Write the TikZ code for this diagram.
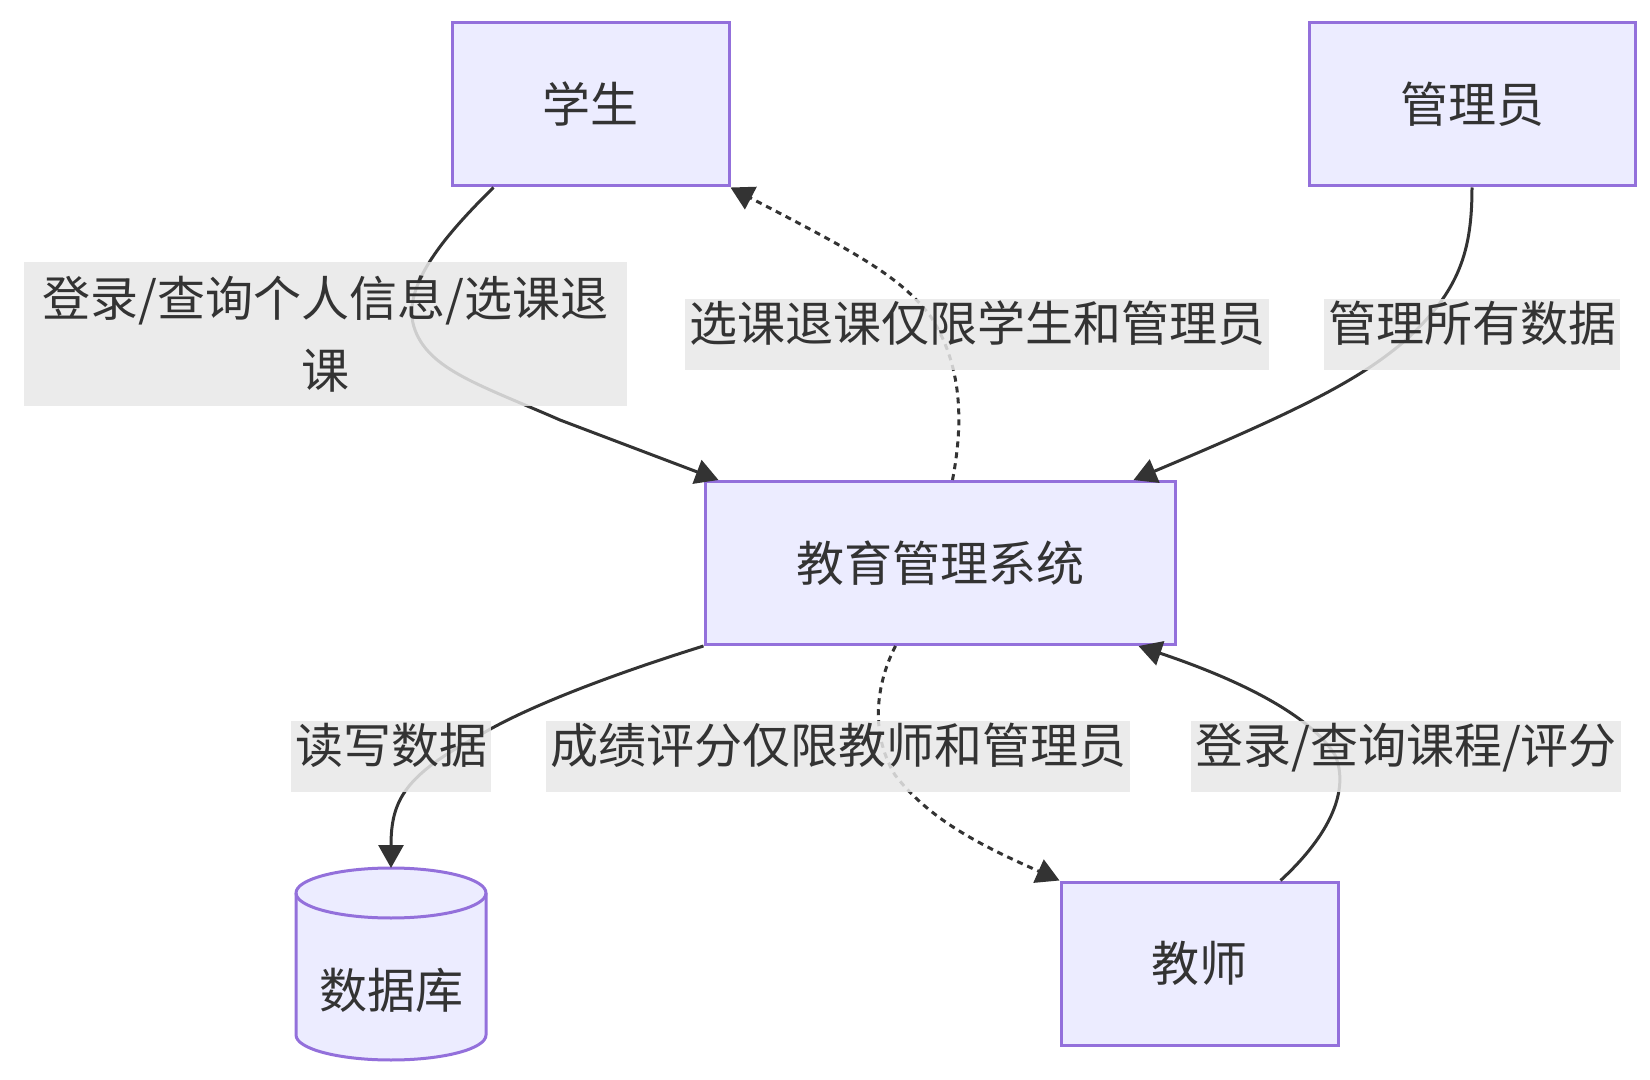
\documentclass[tikz,border=0pt]{standalone}
\usepackage{fontspec}
\usepackage{tikz}
\usetikzlibrary{arrows.meta}
\newfontfamily\cjk{Noto Sans CJK SC}

\definecolor{boxfill}{HTML}{ECECFF}
\definecolor{boxline}{HTML}{9370DB}
\definecolor{lblfill}{HTML}{E8E8E8}
\definecolor{ink}{HTML}{333333}

\tikzset{
	box/.style={draw=boxline, fill=boxfill, line width=1.5pt, text=ink,
	            minimum height=81.5pt, inner sep=0pt},
	lblbase/.style={fill=lblfill, fill opacity=0.85, text opacity=1, text=ink,
	            inner xsep=2pt, inner ysep=0pt},
	lbl/.style={lblbase, minimum height=35.5pt,
	            text height=0.85em, text depth=0.12em},
	flow/.style={draw=ink, line width=1.5pt,
	             -{Triangle[length=11.5pt,width=12.5pt]}},
	dotflow/.style={flow, dash pattern=on 3pt off 2.5pt}
}

\begin{document}
\begin{tikzpicture}[x=0.5pt, y=-0.5pt, font=\cjk\fontsize{24}{36}\selectfont]
	\useasboundingbox (0,0) rectangle (1650,1080);

	% boxes
	\node[box, minimum width=138.5pt] (stu) at (590.5,104.5) {学生};
	\node[box, minimum width=163pt]   (adm) at (1472,104.5) {管理员};
	\node[box, minimum width=235pt]   (sys) at (940,563) {教育管理系统};
	\node[box, minimum width=138.5pt] (tch) at (1199.5,963.5) {教师};

	% database
	\coordinate (dbtop) at (391,868);
	\path[draw=boxline, fill=boxfill, line width=1.5pt]
		(296,893) -- (296,1035) arc[start angle=180, end angle=360, x radius=47.5pt, y radius=12.5pt]
		-- (486,893) arc[start angle=0, end angle=180, x radius=47.5pt, y radius=12.5pt] -- cycle;
	\draw[boxline, line width=1.5pt]
		(296,893) arc[start angle=180, end angle=360, x radius=47.5pt, y radius=12.5pt];
	\node[text=ink] (db) at (391,990) {数据库};

	% edges
	\draw[flow] ([xshift=21.5pt]stu.south west)
		.. controls (440,240) and (400,290) .. (415,330)
		.. controls (430,370) and (480,385) .. (560,420)
		-- ([xshift=7.5pt]sys.north west);
	\draw[dotflow] ([xshift=124.5pt]sys.north west)
		.. controls (962,430) and (965,370) .. (931,317)
		.. controls (900,275) and (850,250) .. (stu.south east);
	\draw[flow] (adm.south)
		.. controls (1472,250) and (1460,290) .. (1407,339)
		.. controls (1360,380) and (1300,410) .. ([xshift=-21.5pt]sys.north east);
	\draw[flow] (sys.south west)
		.. controls (620,672) and (530,705) .. (480,735)
		.. controls (405,775) and (391,800) .. (dbtop);
	\draw[dotflow] ([xshift=96pt]sys.south west)
		.. controls (878,680) and (868,730) .. (895,775)
		.. controls (930,820) and (980,845) .. (tch.north west);
	\draw[flow] ([xshift=40.5pt]tch.north)
		.. controls (1330,835) and (1350,790) .. (1335,755)
		.. controls (1310,715) and (1240,680) .. ([xshift=-19pt]sys.south east);

	% edge labels
	\node[lblbase, align=center, minimum height=72pt, minimum width=301.5pt] (l1)
		at (325.5,334) {登录/查询个人信息/选课退\\课};
	\node[lbl] (l2) at (977,334.5) {选课退课仅限学生和管理员};
	\node[lbl] (l3) at (1472,334.5) {管理所有数据};
	\node[lbl] (l4) at (391,756) {读写数据};
	\node[lbl] (l5) at (838,756) {成绩评分仅限教师和管理员};
	\node[lbl] (l6) at (1406,756) {登录/查询课程/评分};
\end{tikzpicture}
\end{document}
